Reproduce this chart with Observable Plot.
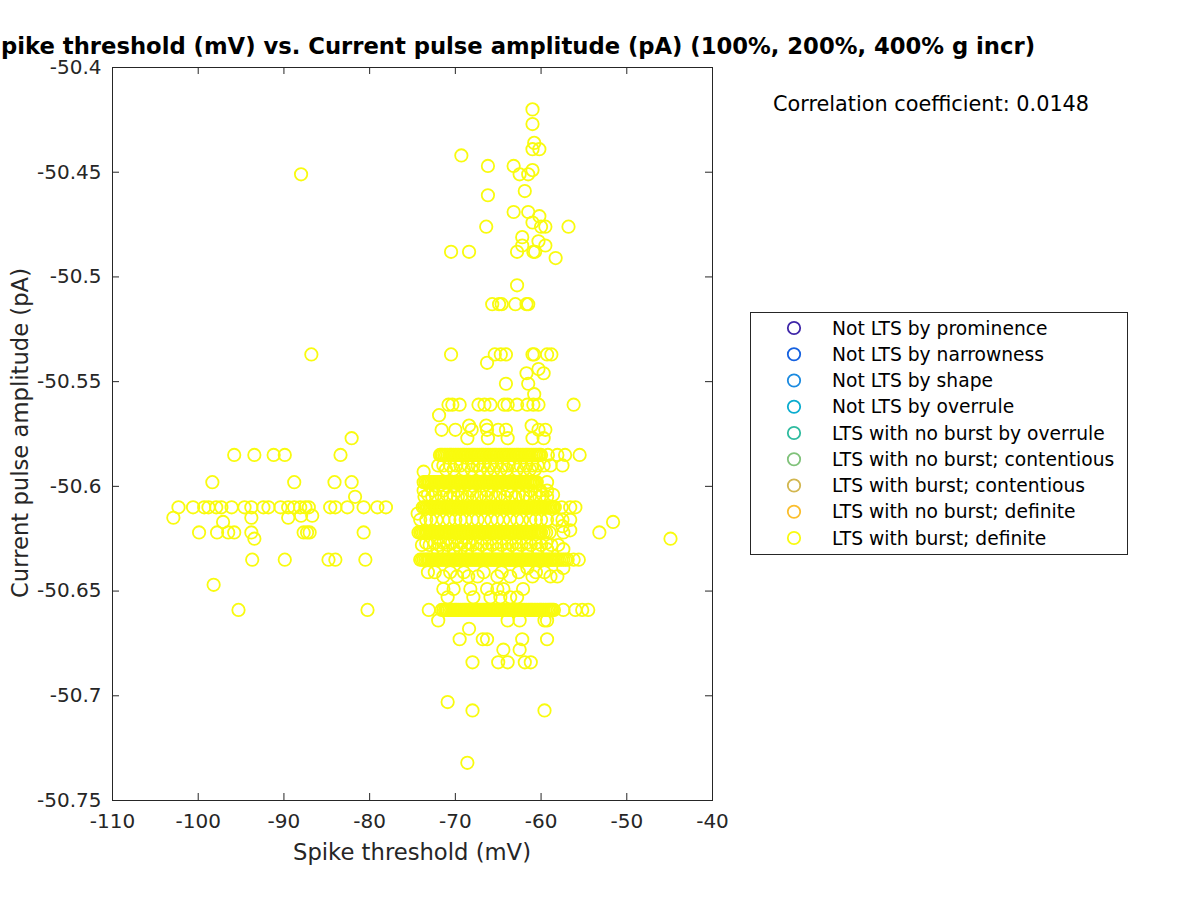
<!DOCTYPE html>
<html><head><meta charset="utf-8">
<script src="https://cdn.jsdelivr.net/npm/d3@7"></script>
<script src="https://cdn.jsdelivr.net/npm/@observablehq/plot@0.6"></script>
<style>
body{margin:0;background:#fff;}
#wrap{position:relative;width:1200px;height:900px;overflow:hidden;background:#fff;}
#overlay{position:absolute;left:0;top:0;pointer-events:none;}
</style>
</head><body>
<div id="wrap"><div id="chart"></div><svg id="overlay" width="1200" height="900"></svg></div>
<script>
// ---- data ----
const titleText = "Spike threshold (mV) vs. Current pulse amplitude (pA) (100%, 200%, 400% g incr)";
const xLabel = "Spike threshold (mV)";
const yLabel = "Current pulse amplitude (pA)";
const corrText = "Correlation coefficient: 0.0148";
const xTicks = [-110, -100, -90, -80, -70, -60, -50, -40];
const yTicks = [-50.75, -50.7, -50.65, -50.6, -50.55, -50.5, -50.45, -50.4];
const categories = ["Not LTS by prominence","Not LTS by narrowness","Not LTS by shape","Not LTS by overrule","LTS with no burst by overrule","LTS with no burst; contentious","LTS with burst; contentious","LTS with no burst; definite","LTS with burst; definite"];
const categoryColors = ["#3e26a8","#1561e0","#1a8ae0","#0aaccf","#2ebb9f","#80c27a","#d2b64e","#fbbe2c","#f9fb0e"];

// dense bands in the main cluster (amplitude level -> thresholds)
const bandAmplitudes = [-50.585, -50.598, -50.610, -50.622, -50.635, -50.659];
const bandThresholds = [
 [-71.8,-71.5,-71.1,-70.7,-70.4,-70.0,-69.6,-69.2,-68.9,-68.5,-68.1,-67.8,-67.4,-67.0,-66.7,-66.3,-65.9,-65.5,-65.2,-64.8,-64.4,-64.1,-63.7,-63.3,-62.9,-62.6,-62.2,-61.8,-61.5,-61.1,-60.7,-60.3,-60.0,-59.2,-58.1,-57.2,-55.5],
 [-73.7,-73.3,-73.0,-72.6,-72.2,-71.9,-71.5,-71.1,-70.8,-70.4,-70.0,-69.7,-69.3,-68.9,-68.6,-68.2,-67.8,-67.5,-67.1,-66.7,-66.4,-66.0,-65.6,-65.3,-64.9,-64.5,-64.2,-63.8,-63.4,-63.1,-62.7,-62.3,-62.0,-61.6,-61.2,-60.9,-60.5,-59.3],
 [-73.8,-73.4,-73.0,-72.7,-72.3,-71.9,-71.6,-71.2,-70.8,-70.5,-70.1,-69.7,-69.4,-69.0,-68.6,-68.3,-67.9,-67.5,-67.2,-66.8,-66.4,-66.1,-65.7,-65.3,-65.0,-64.6,-64.2,-63.9,-63.5,-63.1,-62.8,-62.4,-62.0,-61.7,-61.3,-60.9,-60.6,-60.2,-59.8,-59.5,-59.1,-58.7,-58.4,-57.6,-56.6,-56.0],
 [-74.3,-73.9,-73.5,-73.2,-72.8,-72.4,-72.1,-71.7,-71.3,-71.0,-70.6,-70.2,-69.9,-69.5,-69.1,-68.8,-68.4,-68.0,-67.7,-67.3,-66.9,-66.6,-66.2,-65.8,-65.5,-65.1,-64.7,-64.4,-64.0,-63.6,-63.3,-62.9,-62.5,-62.2,-61.8,-61.4,-61.1,-60.7,-60.3,-60.0,-59.4,-57.4],
 [-74.1,-73.7,-73.3,-73.0,-72.6,-72.2,-71.9,-71.5,-71.1,-70.8,-70.4,-70.0,-69.7,-69.3,-68.9,-68.6,-68.2,-67.8,-67.5,-67.1,-66.7,-66.4,-66.0,-65.6,-65.3,-64.9,-64.5,-64.2,-63.8,-63.4,-63.1,-62.7,-62.3,-62.0,-61.6,-61.2,-60.9,-60.5,-60.1,-59.8,-59.4,-59.0,-58.7,-58.3,-57.9,-57.4,-56.9,-56.2,-55.6],
 [-73.1,-71.6,-71.2,-70.9,-70.5,-70.1,-69.8,-69.4,-69.0,-68.7,-68.3,-67.9,-67.6,-67.2,-66.8,-66.5,-66.1,-65.7,-65.4,-65.0,-64.6,-64.3,-63.9,-63.5,-63.2,-62.8,-62.4,-62.1,-61.7,-61.3,-61.0,-60.6,-60.2,-59.9,-59.5,-59.1,-58.8,-58.5,-57.4,-56.0,-55.2,-54.5]
];
// further points on the same band levels
const bandThresholdsMore = [
 [-71.65,-71.3,-70.9,-70.55,-70.2,-69.8,-69.4,-69.05,-68.7,-68.3,-67.95,-67.6,-67.2,-66.85,-66.5,-66.1,-65.7,-65.35,-65.0,-64.6,-64.25,-63.9,-63.5,-63.1,-62.75,-62.4,-62.0,-61.65,-61.3,-60.9,-60.5,-60.15],
 [-73.5,-73.15,-72.8,-72.4,-72.05,-71.7,-71.3,-70.95,-70.6,-70.2,-69.85,-69.5,-69.1,-68.75,-68.4,-68.0,-67.65,-67.3,-66.9,-66.55,-66.2,-65.8,-65.45,-65.1,-64.7,-64.35,-64.0,-63.6,-63.25,-62.9,-62.5,-62.15,-61.8,-61.4,-61.05,-60.7],
 [-73.6,-73.2,-72.85,-72.5,-72.1,-71.75,-71.4,-71.0,-70.65,-70.3,-69.9,-69.55,-69.2,-68.8,-68.45,-68.1,-67.7,-67.35,-67.0,-66.6,-66.25,-65.9,-65.5,-65.15,-64.8,-64.4,-64.05,-63.7,-63.3,-62.95,-62.6,-62.2,-61.85,-61.5,-61.1,-60.75,-60.4,-60.0,-59.65,-59.3,-58.9,-58.55],
 [-74.1,-73.7,-73.35,-73.0,-72.6,-72.25,-71.9,-71.5,-71.15,-70.8,-70.4,-70.05,-69.7,-69.3,-68.95,-68.6,-68.2,-67.85,-67.5,-67.1,-66.75,-66.4,-66.0,-65.65,-65.3,-64.9,-64.55,-64.2,-63.8,-63.45,-63.1,-62.7,-62.35,-62.0,-61.6,-61.25,-60.9,-60.5,-60.15,-59.7,-59.0],
 [-73.9,-73.5,-73.15,-72.8,-72.4,-72.05,-71.7,-71.3,-70.95,-70.6,-70.2,-69.85,-69.5,-69.1,-68.75,-68.4,-68.0,-67.65,-67.3,-66.9,-66.55,-66.2,-65.8,-65.45,-65.1,-64.7,-64.35,-64.0,-63.6,-63.25,-62.9,-62.5,-62.15,-61.8,-61.4,-61.05,-60.7,-60.3,-59.95,-59.6,-59.2,-58.85,-58.5,-58.1,-57.65,-57.15],
 [-71.4,-71.05,-70.7,-70.3,-69.95,-69.6,-69.2,-68.85,-68.5,-68.1,-67.75,-67.4,-67.0,-66.65,-66.3,-65.9,-65.55,-65.2,-64.8,-64.45,-64.1,-63.7,-63.35,-63.0,-62.6,-62.25,-61.9,-61.5,-61.15,-60.8,-60.4,-60.05,-59.7,-59.3,-58.95,-58.65]
];

// scattered points of the main cluster (amplitude level -> thresholds)
const clusterAmplitudes = [-50.420,-50.427,-50.436,-50.439,-50.442,-50.447,-50.449,-50.451,-50.459,-50.461,-50.469,-50.471,-50.474,-50.476,-50.481,-50.483,-50.485,-50.488,-50.491,-50.504,-50.513,-50.537,-50.541,-50.544,-50.546,-50.551,-50.556,-50.561,-50.566,-50.571,-50.573,-50.577,-50.590,-50.592,-50.593,-50.602,-50.604,-50.605,-50.613,-50.616,-50.619,-50.621,-50.627,-50.628,-50.630,-50.639,-50.641,-50.643,-50.649,-50.653,-50.664,-50.668,-50.673,-50.678,-50.684,-50.703,-50.707,-50.732];
const clusterThresholds = [
 [-61.0],[-61.0],[-60.8],[-61.0,-60.2],[-69.3],[-66.2,-63.2],[-61.0],[-62.5,-61.5],[-61.9],[-66.2],
 [-63.2,-61.5],[-60.2],[-61.0],[-60.0,-59.5,-56.8,-66.4],[-62.2],[-60.3],[-62.2,-59.5],[-62.8,-60.9,-60.7,-70.5,-68.4],[-58.3],[-62.8],
 [-65.7,-64.9,-64.6,-63.0,-61.7,-61.5],
 [-70.5,-65.4,-64.7,-64.1,-61.0,-60.8,-59.3,-58.8],[-66.3],[-60.3],[-61.7,-59.7],[-64.1,-61.5],[-60.8],
 [-70.8,-70.35,-69.5,-67.3,-66.6,-65.9,-64.3,-63.9,-62.8,-61.6,-60.9,-60.3,-56.2],[-71.9],[-68.4,-66.4,-61.1],
 [-71.6,-70.0,-68.1,-66.3,-65.0,-64.1,-60.3,-59.5],[-68.6,-66.2,-63.9,-61.0,-59.7],
 [-72.0,-71.4,-70.6,-69.9,-69.4,-68.5,-67.9,-67.4,-66.7,-65.9,-65.2,-64.4,-63.8,-63.2,-62.4,-61.7,-61.0,-60.4,-59.7,-58.9,-57.5],
 [-71.1,-70.2,-69.0,-68.1,-67.1,-66.2,-65.5,-64.7,-64.0,-62.8,-62.0,-61.3,-60.7],
 [-73.7],
 [-73.7,-72.6,-71.4,-69.8,-68.25,-66.3,-63.9,-61.25,-60.1,-59.3],
 [-73.2,-72.3,-71.0,-70.2,-69.2,-68.0,-67.0,-65.8,-64.8,-63.5,-62.6,-61.8,-60.7,-59.8,-58.6],
 [-73.6,-72.7,-71.6,-70.6,-69.7,-68.6,-67.5,-66.4,-65.3,-64.2,-63.0,-62.1,-61.3,-60.2,-59.3],
 [-74.4],
 [-74.1,-73.4,-72.9,-72.2,-71.4,-70.7,-70.0,-69.4,-68.8,-68.0,-67.4,-66.6,-65.8,-65.1,-64.4,-63.6,-62.8,-62.2,-61.25,-60.6,-60.0,-59.3,-58.1,-57.5,-56.6],[-57.5],[-56.6],
 [-73.4,-72.4,-71.4,-70.4,-69.3,-68.4,-67.4,-66.3,-65.2,-64.0,-62.9,-61.7,-60.6,-59.4],
 [-73.9,-73.0,-71.9,-70.9,-69.8,-68.9,-68.0,-66.9,-65.7,-64.6,-63.4,-62.3,-61.2,-60.0,-58.8,-58.0],
 [-72.1,-71.4,-70.2,-69.4,-68.6,-67.4,-66.3,-65.1,-63.9,-62.8,-61.6,-60.4,-59.3,-57.4],[-61.6,-57.4],
 [-73.2,-72.4,-70.6,-69.0,-66.7,-64.6,-62.6,-60.6,-59.6],
 [-71.4,-69.8,-68.5,-67.4,-65.1,-63.6,-61.0,-58.9,-58.1],[-71.4,-70.2,-68.25,-66.3,-65.1,-64.4,-62.1],
 [-70.9,-67.9,-65.9,-64.75,-63.6,-62.8],[-72.0,-63.9,-62.5,-59.6,-59.3],[-68.4],[-69.5,-66.8,-66.3,-62.2,-59.3],
 [-64.4,-62.5],[-68.0,-65.0,-63.9,-61.9,-61.2],[-70.9],[-68.0,-59.6],[-68.6]
];

// left group (amplitude level -> thresholds)
const leftAmplitudes = [-50.451,-50.537,-50.577,-50.585,-50.598,-50.605,-50.610,-50.614,-50.615,-50.617,-50.622,-50.625,-50.635,-50.647,-50.659];
const leftThresholds = [
 [-88.0],[-86.8],[-82.1],[-95.8,-93.45,-91.2,-89.9,-83.4],[-98.35,-88.8,-84.1,-82.1],[-81.7],
 [-102.3,-100.6,-99.3,-98.8,-97.9,-97.3,-96.1,-94.6,-93.8,-92.4,-91.8,-90.4,-89.5,-88.8,-88.1,-87.5,-87.1,-84.6,-84.0,-82.6,-80.7,-79.1,-78.1],
 [-88.0,-86.7],[-102.9,-93.8,-89.5],[-97.1],[-99.9,-97.8,-96.5,-95.8,-93.8,-87.7,-87.3,-87.0,-80.7],[-93.45],
 [-93.7,-89.9,-84.8,-84.0,-80.5],[-98.2],[-95.3,-80.25]
];

// right outliers
const outlierThresholds = [-51.6, -53.2, -44.9];
const outlierAmplitudes = [-50.617, -50.622, -50.625];

// ---- build table ----
const points = [];
function addLevels(levels, lists) {
  levels.forEach((a, i) => lists[i].forEach(t => points.push({t, a})));
}
addLevels(bandAmplitudes, bandThresholds);
addLevels(bandAmplitudes, bandThresholdsMore);
addLevels(clusterAmplitudes, clusterThresholds);
addLevels(leftAmplitudes, leftThresholds);
outlierThresholds.forEach((t, i) => points.push({t, a: outlierAmplitudes[i]}));

const axisColor = "#262626";
const fmt = d => String(+d.toFixed(2));
const pointColor = categoryColors[categoryColors.length - 1];

const chart = Plot.plot({
  width: 1200, height: 900,
  marginLeft: 112, marginRight: 488, marginTop: 67, marginBottom: 100,
  style: {fontFamily: "'DejaVu Sans', sans-serif", fontSize: "20px", color: axisColor, background: "#fff"},
  x: {domain: [-110, -40]},
  y: {domain: [-50.75, -50.4]},
  marks: [
    Plot.dot(points, {x: "t", y: "a", r: 6.2, stroke: pointColor, strokeWidth: 1.8, fill: "none"}),
    Plot.frame({stroke: axisColor, strokeWidth: 1}),
    Plot.tickX(xTicks, {x: d => d, insetTop: 726, stroke: axisColor}),
    Plot.tickX(xTicks, {x: d => d, insetBottom: 726, stroke: axisColor}),
    Plot.tickY(yTicks, {y: d => d, insetRight: 593, stroke: axisColor}),
    Plot.tickY(yTicks, {y: d => d, insetLeft: 593, stroke: axisColor}),
    Plot.axisX(xTicks, {anchor: "bottom", tickSize: 0, tickPadding: 13, tickFormat: fmt, label: null, fill: axisColor}),
    Plot.axisY(yTicks, {anchor: "left", tickSize: 0, tickPadding: 11, tickFormat: fmt, label: null, fill: axisColor})
  ]
});
document.getElementById("chart").appendChild(chart);

// ---- overlay: title, axis titles, annotation, legend ----
const ov = d3.select("#overlay").style("font-family", "'DejaVu Sans', sans-serif");
ov.append("text").attr("x", 1035).attr("y", 54).attr("text-anchor", "end")
  .attr("font-weight", "bold").attr("font-size", 22.7).attr("fill", "#000").text(titleText);
ov.append("text").attr("x", 412).attr("y", 860).attr("text-anchor", "middle")
  .attr("font-size", 22.7).attr("fill", axisColor).text(xLabel);
ov.append("text").attr("transform", "translate(28,433) rotate(-90)").attr("text-anchor", "middle")
  .attr("font-size", 22.7).attr("fill", axisColor).text(yLabel);
ov.append("text").attr("x", 773).attr("y", 111).attr("font-size", 20.8).attr("fill", "#000").text(corrText);

const lg = ov.append("g");
lg.append("rect").attr("x", 750.5).attr("y", 312.5).attr("width", 377).attr("height", 242)
  .attr("fill", "#fff").attr("stroke", axisColor).attr("stroke-width", 1);
categories.forEach((c, i) => {
  const cy = 328 + i * 26.25;
  lg.append("circle").attr("cx", 794).attr("cy", cy).attr("r", 6.2)
    .attr("fill", "none").attr("stroke", categoryColors[i]).attr("stroke-width", 1.8);
  lg.append("text").attr("x", 832).attr("y", cy + 6.5).attr("font-size", 18.7).attr("fill", "#000").text(c);
});
</script>
</body></html>
